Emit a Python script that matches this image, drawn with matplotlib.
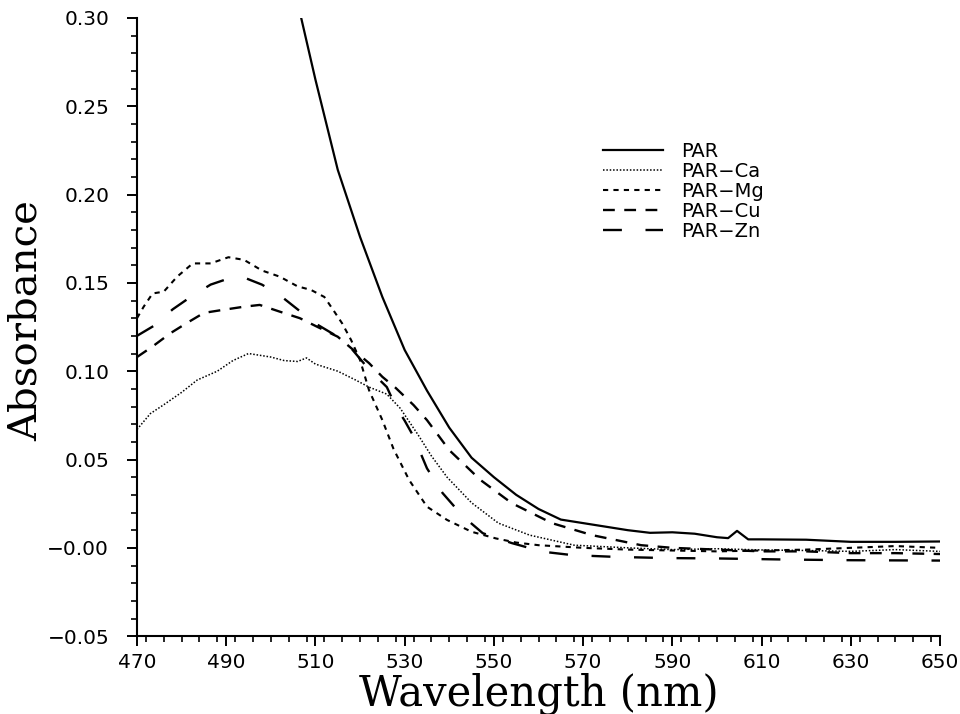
import numpy as np
import matplotlib
matplotlib.use('Agg')
import matplotlib.pyplot as plt
from matplotlib.ticker import MultipleLocator, FixedLocator, FixedFormatter

# spectra (wavelength nm, absorbance)
par_wl = [506.8, 510, 515, 520, 525, 530, 535, 540, 545, 550, 555, 560, 565, 570,
          575, 580, 585, 590, 595, 600, 602.5, 604.5, 607, 610, 620, 630, 640, 650]
par_abs = [0.300, 0.265, 0.214, 0.176, 0.142, 0.112, 0.089, 0.068, 0.051, 0.040, 0.030,
           0.022, 0.016, 0.0140, 0.0120, 0.0100, 0.0085, 0.0088, 0.0080, 0.0060, 0.0055,
           0.0096, 0.0048, 0.0048, 0.0046, 0.0034, 0.0034, 0.0036]

ca_wl = [470, 473, 476, 480, 483.5, 488, 491.5, 495, 500, 503, 506, 508, 510, 515, 519,
         522, 526, 529, 533, 536, 539.5, 545, 551, 558, 568, 580, 590, 600, 610, 620,
         630, 640, 650]
ca_abs = [0.067, 0.076, 0.081, 0.088, 0.095, 0.100, 0.106, 0.110, 0.108, 0.106, 0.1055,
          0.1075, 0.104, 0.100, 0.095, 0.091, 0.087, 0.079, 0.064, 0.052, 0.040, 0.0255,
          0.014, 0.0072, 0.0015, 0.0000, -0.0010, -0.0005, -0.0012, -0.0015, -0.0020,
          -0.0010, -0.0020]

mg_wl = [470, 471.5, 473.5, 476, 479, 482.5, 486.5, 490.5, 494, 498, 502, 506, 509,
         512, 514, 516, 518, 520, 522, 525, 527.5, 531, 535, 539.5, 545, 550.5, 555,
         560, 570, 580, 590, 600, 610, 620, 630, 640, 650]
mg_abs = [0.130, 0.1365, 0.144, 0.145, 0.1535, 0.161, 0.161, 0.1645, 0.163, 0.157,
          0.1535, 0.148, 0.146, 0.142, 0.1346, 0.127, 0.1176, 0.1063, 0.0893, 0.0723,
          0.0560, 0.0384, 0.0233, 0.0158, 0.0091, 0.0053, 0.0030, 0.0015, 0.0000,
          -0.0010, -0.0015, -0.0020, -0.0015, -0.0010, 0.0000, 0.0010, 0.0000]

cu_wl = [470, 473.5, 477.5, 481, 485, 489, 494, 497.5, 502, 506.5, 510.5, 515, 518.5,
         522, 525, 528, 532, 535, 540, 547, 554, 563, 572, 583, 590, 600, 610, 620,
         630, 640, 650]
cu_abs = [0.108, 0.114, 0.1215, 0.127, 0.133, 0.1346, 0.1365, 0.1375, 0.1337, 0.130,
          0.125, 0.1195, 0.112, 0.1046, 0.0968, 0.0905, 0.0808, 0.0723, 0.0553, 0.0384,
          0.0253, 0.0140, 0.0072, 0.0015, 0.0000, -0.0010, -0.0020, -0.0020, -0.0030,
          -0.0030, -0.0035]

zn_wl = [470, 474, 478, 482, 486.5, 490, 494, 498, 502, 506, 510, 514, 518, 522, 526,
         528, 530, 532, 535, 538.5, 543, 547.5, 554, 561, 567.5, 577, 589, 600, 615,
         630, 650]
zn_abs = [0.120, 0.126, 0.135, 0.142, 0.149, 0.152, 0.153, 0.149, 0.143, 0.135, 0.127,
          0.121, 0.113, 0.101, 0.091, 0.080, 0.072, 0.063, 0.045, 0.031, 0.018, 0.0083,
          0.0027, -0.0022, -0.0041, -0.0051, -0.0058, -0.0060, -0.0066, -0.0070, -0.0072]

y_ticks = [-0.05, 0.0, 0.05, 0.10, 0.15, 0.20, 0.25, 0.30]
y_labels = ['\u22120.05', '\u22120.00', '0.05', '0.10', '0.15', '0.20', '0.25', '0.30']
x_ticks = [470, 490, 510, 530, 550, 570, 590, 610, 630, 650]

fig = plt.figure(figsize=(9.6, 7.14), dpi=100)
ax = fig.add_axes([0.1427, 0.109, 0.8365, 0.866])

ax.plot(par_wl, par_abs, color='black', lw=1.6, ls='-', label='PAR')
ax.plot(ca_wl, ca_abs, color='black', lw=1.1, ls=(0, (1, 1.2)), label='PAR\u2212Ca')
ax.plot(mg_wl, mg_abs, color='black', lw=1.5, ls=(0, (2.5, 2.5)), label='PAR\u2212Mg')
ax.plot(cu_wl, cu_abs, color='black', lw=1.7, ls=(0, (5, 4)), label='PAR\u2212Cu')
ax.plot(zn_wl, zn_abs, color='black', lw=1.7, ls=(0, (8, 10)), label='PAR\u2212Zn')

ax.set_xlim(470, 650)
ax.set_ylim(-0.05, 0.30)

ax.spines['top'].set_visible(False)
ax.spines['right'].set_visible(False)
ax.spines['left'].set_linewidth(1.5)
ax.spines['bottom'].set_linewidth(1.5)

ax.yaxis.set_major_locator(FixedLocator(y_ticks))
ax.yaxis.set_major_formatter(FixedFormatter(y_labels))
ax.yaxis.set_minor_locator(MultipleLocator(0.01))
ax.xaxis.set_major_locator(FixedLocator(x_ticks))
ax.xaxis.set_minor_locator(MultipleLocator(4))

ax.tick_params(which='major', direction='out', length=7, width=1.4, labelsize=14.5)
ax.tick_params(which='minor', direction='out', length=4.5, width=1.2)
ax.tick_params(axis='y', which='major', pad=13)
ax.tick_params(axis='x', which='major', pad=5)
for lab in ax.get_xticklabels() + ax.get_yticklabels():
    lab.set_family('DejaVu Sans')

ax.set_xlabel('Wavelength (nm)', family='DejaVu Serif', fontsize=30)
ax.xaxis.set_label_coords(0.5, -0.058)
ax.set_ylabel('Absorbance', family='DejaVu Serif', fontsize=29)
ax.yaxis.set_label_coords(-0.115, 0.511)

leg = ax.legend(loc='upper left', bbox_to_anchor=(0.628, 0.801),
                bbox_transform=fig.transFigure, frameon=False, fontsize=14,
                borderpad=0, borderaxespad=0,
                handlelength=3.1, handletextpad=0.9, labelspacing=0.05)

fig.savefig('out.png', dpi=100)
